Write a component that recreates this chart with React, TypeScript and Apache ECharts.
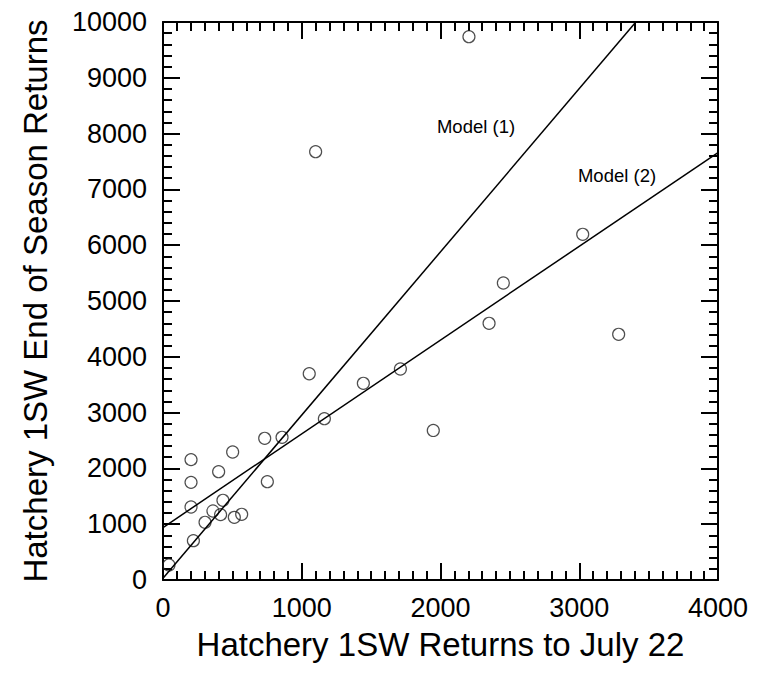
import React, { useEffect, useRef } from "react";
import * as echarts from "echarts";

const observed: [number, number][] = [
  [43, 269], [202, 2157], [202, 1750], [202, 1308], [219, 705], [303, 1034],
  [360, 1237], [401, 1941], [432, 1428], [415, 1171], [502, 2294], [514, 1123],
  [567, 1177], [733, 2539], [752, 1762], [858, 2557], [1054, 3697], [1163, 2891],
  [1100, 7676], [1444, 3525], [1711, 3781], [1948, 2680], [2205, 9737],
  [2350, 4600], [2453, 5323], [3025, 6195], [3284, 4403],
];
const model1: [number, number][] = [[0, 30], [3408, 10000]];
const model2: [number, number][] = [[0, 940], [4000, 7660]];
const modelLabels = ["Model (1)", "Model (2)"];
const xTitle = "Hatchery 1SW Returns to July 22";
const yTitle = "Hatchery 1SW End of Season Returns";

const FONT = "Liberation Sans, Arial, Helvetica, sans-serif";

export default function App() {
  const ref = useRef<HTMLDivElement>(null);
  useEffect(() => {
    if (!ref.current) return;
    const chart = echarts.init(ref.current, null, { renderer: "svg" });
    const axisLine = { show: true, onZero: false, lineStyle: { color: "#000", width: 2 } };
    const xTick = { show: true, inside: true, length: 17, lineStyle: { color: "#000", width: 2 } };
    const xMinor = { show: true, splitNumber: 10, length: 9, lineStyle: { color: "#000", width: 2 } };
    const yMinor = { show: true, splitNumber: 5, length: 9, lineStyle: { color: "#000", width: 2 } };
    const plain = (v: number) => String(v);
    chart.setOption({
      animation: false,
      backgroundColor: "#fff",
      textStyle: { fontFamily: FONT },
      grid: { left: 163, right: 50, top: 22, bottom: 93, containLabel: false },
      xAxis: [
        {
          type: "value", min: 0, max: 4000, interval: 1000, position: "bottom",
          axisLine, axisTick: xTick, minorTick: xMinor, splitLine: { show: false },
          axisLabel: { color: "#000", fontSize: 27, margin: 14, fontFamily: FONT, formatter: plain },
          name: xTitle, nameLocation: "middle", nameGap: 48,
          nameTextStyle: { color: "#000", fontSize: 33, fontFamily: FONT },
        },
        {
          type: "value", min: 0, max: 4000, interval: 1000, position: "top",
          axisLine, axisTick: xTick, minorTick: xMinor, splitLine: { show: false },
          axisLabel: { show: false },
        },
      ],
      yAxis: [
        {
          type: "value", min: 0, max: 10000, interval: 1000, position: "left",
          axisLine, axisTick: xTick, minorTick: yMinor, splitLine: { show: false },
          axisLabel: { color: "#000", fontSize: 27, margin: 16, fontFamily: FONT, formatter: plain },
          name: yTitle, nameLocation: "middle", nameGap: 111, nameRotate: 90,
          nameTextStyle: { color: "#000", fontSize: 33, fontFamily: FONT },
        },
        {
          type: "value", min: 0, max: 10000, interval: 1000, position: "right",
          axisLine, axisTick: xTick, minorTick: yMinor, splitLine: { show: false },
          axisLabel: { show: false },
        },
      ],
      series: [
        {
          type: "line", name: modelLabels[0], data: model1, symbol: "none",
          lineStyle: { color: "#000", width: 1.5 }, clip: true,
        },
        {
          type: "line", name: modelLabels[1], data: model2, symbol: "none",
          lineStyle: { color: "#000", width: 1.5 }, clip: true,
        },
        {
          type: "scatter", data: observed, symbol: "circle", symbolSize: 12,
          itemStyle: { color: "rgba(255,255,255,0)", borderColor: "#222", borderWidth: 1.2 },
        },
      ],
      graphic: [
        {
          type: "text", x: 476, y: 126,
          style: { text: modelLabels[0], fill: "#000", font: `18.5px ${FONT}`, align: "center", verticalAlign: "middle" },
        },
        {
          type: "text", x: 617, y: 175,
          style: { text: modelLabels[1], fill: "#000", font: `18.5px ${FONT}`, align: "center", verticalAlign: "middle" },
        },
      ],
    });
    return () => chart.dispose();
  }, []);
  return (
    <div
      ref={ref}
      style={{ position: "fixed", left: 0, top: 0, width: 768, height: 673, background: "#fff" }}
    />
  );
}
